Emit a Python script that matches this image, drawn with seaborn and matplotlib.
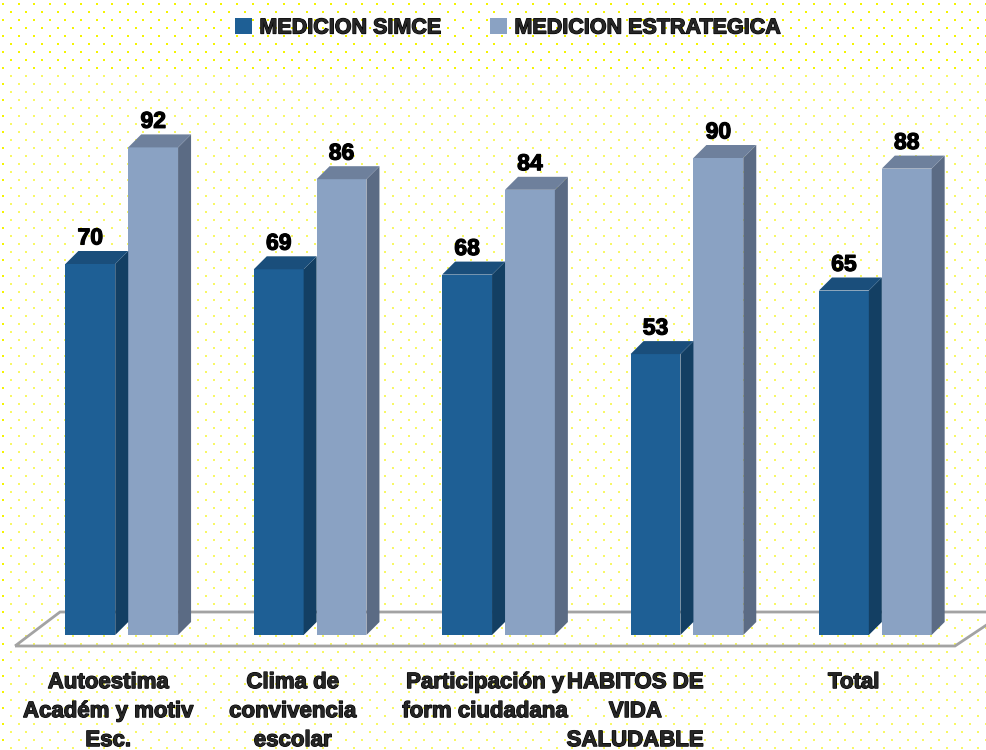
import numpy as np
import pandas as pd
import matplotlib
matplotlib.use("Agg")
import matplotlib.pyplot as plt
import matplotlib.patheffects as pe
from matplotlib.patches import Polygon, Rectangle
import seaborn as sns

categories = [
    "Autoestima\nAcadém y motiv\nEsc.",
    "Clima de\nconvivencia\nescolar",
    "Participación y\nform ciudadana",
    "HABITOS DE\nVIDA\nSALUDABLE",
    "Total",
]
series_names = ["MEDICION SIMCE", "MEDICION ESTRATEGICA"]
simce = [70, 69, 68, 53, 65]
estrategica = [92, 86, 84, 90, 88]

front_colors = ["#1E5F95", "#8AA2C3"]
side_colors = ["#133F63", "#5B6B84"]
top_colors = ["#1A4E7B", "#6E809C"]

df = pd.DataFrame({
    "categoria": categories * 2,
    "serie": [series_names[0]] * 5 + [series_names[1]] * 5,
    "valor": simce + estrategica,
})

W, H = 986, 750
sns.set_style("white")
plt.rcParams["font.family"] = ["Liberation Sans Narrow", "Liberation Sans", "DejaVu Sans"]
plt.rcParams["font.weight"] = "bold"
# fake the heavy narrow face with a thin outline
bold_fx = [pe.withStroke(linewidth=0.9, foreground="black")]

fig = plt.figure(figsize=(W / 100, H / 100), dpi=100)

# dotted yellow background
bg = fig.add_axes([0, 0, 1, 1])
bg.set_xlim(0, W)
bg.set_ylim(H, 0)
bg.axis("off")
pts = []
for r, yy in enumerate(np.arange(4, H, 8.0)):
    off = 0 if r % 2 == 0 else 7.8
    for xx in np.arange(3 + off, W, 15.6):
        pts.append((xx, yy))
pts = np.array(pts)
bg.scatter(pts[:, 0], pts[:, 1], s=3.5, marker="s", color="#F4F400", linewidths=0)
bg.add_patch(Rectangle((8, 70), W, H, facecolor="white", alpha=0.4, edgecolor="none"))

# plot axes: x from -0.5..4.5 -> 34..976 px, y 0..100 -> 635..105 px
ax = fig.add_axes([34 / W, 115 / H, 942 / W, 530 / H])
ax.patch.set_alpha(0)
sns.barplot(data=df, x="categoria", y="valor", hue="serie", hue_order=series_names,
            palette=front_colors, width=0.667, ax=ax, zorder=3, saturation=1,
            linewidth=0)
ax.set_xlim(-0.5, 4.5)
ax.set_ylim(0, 100)
for s in ax.spines.values():
    s.set_visible(False)
ax.set_xticks([])
ax.set_yticks([])
ax.set_xlabel("")
ax.set_ylabel("")

px_x = 1 / 188.4   # data units per pixel
px_y = 1 / 5.3
dx, dy = 13 * px_x, 13 * px_y

# floor
floor = Polygon([(-0.5 - 19 * px_x, -11 * px_y), (-0.5 + 26 * px_x, 23 * px_y),
                 (4.5 + 30 * px_x, 23 * px_y), (4.5 - 21 * px_x, -11 * px_y)],
                closed=True, facecolor="none", edgecolor="#A3A3A3", linewidth=2,
                clip_on=False, zorder=1)
ax.add_patch(floor)

bars = [p for p in ax.patches if isinstance(p, Rectangle) and p.get_height() > 0]
for p in bars:
    fc = p.get_facecolor()
    idx = 0 if abs(fc[0] - matplotlib.colors.to_rgba(front_colors[0])[0]) < 0.05 else 1
    w = p.get_width() * 50 / 63
    p.set_width(w)
    x0 = p.get_x()
    x1 = x0 + w
    h = p.get_height()
    side = Polygon([(x1, 0), (x1 + dx, dy), (x1 + dx, h + dy), (x1, h)], closed=True,
                   facecolor=side_colors[idx], edgecolor="none", zorder=3)
    top = Polygon([(x0, h), (x0 + dx, h + dy), (x1 + dx, h + dy), (x1, h)], closed=True,
                  facecolor=top_colors[idx], edgecolor="none", zorder=3)
    ax.add_patch(side)
    ax.add_patch(top)
    ax.text(x0 + w / 2, h + dy + 0.3, f"{h:.0f}", ha="center", va="bottom",
            fontsize=16.5, fontweight="bold", color="black", zorder=5,
            path_effects=bold_fx)

label_offsets = [-0.106, -0.127, -0.106, -0.308, -0.149]
for i, (lab, off) in enumerate(zip(categories, label_offsets)):
    ax.text(i + off, -7.0, lab, ha="center", va="top", fontsize=16,
            fontweight="bold", linespacing=1.5, clip_on=False,
            path_effects=bold_fx)

handles, labels = ax.get_legend_handles_labels()
ax.get_legend().remove()
leg = fig.legend(handles, labels, loc="center", bbox_to_anchor=(507 / W, 1 - 28 / H),
                 ncol=2, frameon=False, handlelength=0.8, handleheight=0.8,
                 handletextpad=0.35, columnspacing=2.3,
                 prop={"size": 15.5, "weight": "bold"})
for t in leg.get_texts():
    t.set_path_effects(bold_fx)

fig.savefig("out.png", dpi=100)
